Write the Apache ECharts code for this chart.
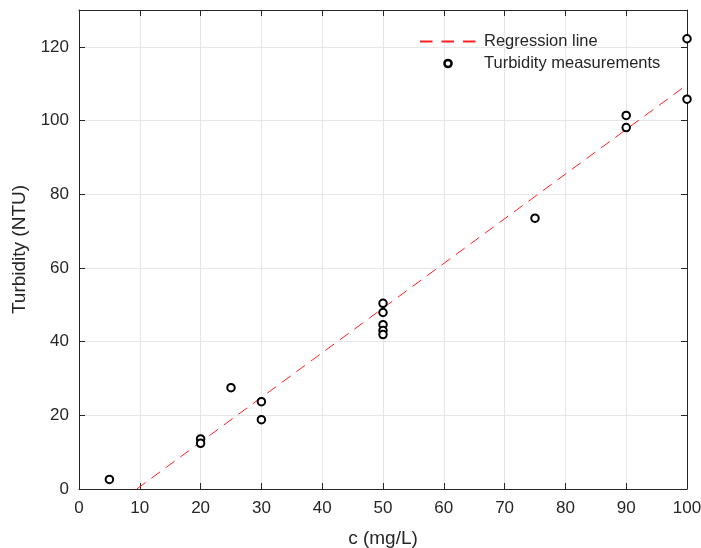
<!DOCTYPE html>
<html>
<head>
<meta charset="utf-8">
<script src="https://cdn.jsdelivr.net/npm/echarts@6/dist/echarts.min.js"></script>
<style>
html,body{margin:0;padding:0;background:#fff;overflow:hidden;}
#chart{width:701px;height:548px;}
</style>
</head>
<body>
<div id="chart"></div>
<script>
// Data
const concentrations = [5, 20, 20, 25, 30, 30, 50, 50, 50, 50, 50, 75, 90, 90, 100, 100];
const turbidity      = [2.6, 13.6, 12.4, 27.5, 23.7, 18.8, 50.4, 47.9, 44.6, 43.0, 41.9, 73.5, 101.4, 98.1, 122.2, 105.8];
const regressionX = [9.5, 100];
const regressionY = [0, 109.7];
const xTicks = [0, 10, 20, 30, 40, 50, 60, 70, 80, 90, 100];
const yTicks = [0, 20, 40, 60, 80, 100, 120];
const seriesNames = ['Regression line', 'Turbidity measurements'];

const font = 'Liberation Sans, Arial, Helvetica, sans-serif';
const axisColor = '#262626';
const gridColor = '#e6e6e6';

const scatterData = concentrations.map((c, i) => [c, turbidity[i]]);
const lineData = regressionX.map((x, i) => [x, regressionY[i]]);

// small ring legend icon inside a 56 x 14 box
const ringIcon = 'path://M0,0h0.01v0.01h-0.01z M56,14h-0.01v-0.01h0.01z ' +
  'M23.2,7 A4.8,4.8 0 1,0 32.8,7 A4.8,4.8 0 1,0 23.2,7 Z ' +
  'M25.7,7 A2.3,2.3 0 1,1 30.3,7 A2.3,2.3 0 1,1 25.7,7 Z';

const baseX = {
  type: 'value', min: xTicks[0], max: xTicks[xTicks.length - 1], interval: 10,
  axisLine: { show: true, onZero: false, lineStyle: { color: axisColor, width: 1 } },
  axisTick: { show: true, inside: true, length: 6, lineStyle: { color: axisColor } },
};
const baseY = {
  type: 'value', min: 0, max: 130, interval: 20,
  axisLine: { show: true, onZero: false, lineStyle: { color: axisColor, width: 1 } },
  axisTick: { show: true, inside: true, length: 6, lineStyle: { color: axisColor } },
};

const chart = echarts.init(document.getElementById('chart'), null, { renderer: 'canvas' });
chart.setOption({
  animation: false,
  backgroundColor: '#ffffff',
  grid: { left: 79, right: 14, top: 10, bottom: 59, containLabel: false, outerBoundsMode: 'none' },
  legend: {
    orient: 'vertical', left: 414, top: 28,
    itemWidth: 56, itemHeight: 14, itemGap: 5,
    textStyle: { fontFamily: font, fontSize: 16.5, color: '#262626', padding: [0, 0, 0, 3] },
    data: [
      { name: seriesNames[0], itemStyle: { opacity: 0 }, lineStyle: { type: [12.5, 9] } },
      { name: seriesNames[1], icon: ringIcon, itemStyle: { color: '#000', borderWidth: 0 } }
    ]
  },
  xAxis: [
    Object.assign({}, baseX, {
      position: 'bottom',
      name: 'c (mg/L)', nameLocation: 'middle', nameGap: 40,
      nameTextStyle: { fontFamily: font, fontSize: 19, color: '#262626' },
      axisLabel: { show: true, fontFamily: font, fontSize: 17, color: '#262626', margin: 11,
        formatter: v => xTicks.includes(v) ? String(v) : '' },
      splitLine: { show: true, lineStyle: { color: gridColor, width: 1 } }
    }),
    Object.assign({}, baseX, {
      position: 'top', axisLabel: { show: false }, splitLine: { show: false }
    })
  ],
  yAxis: [
    Object.assign({}, baseY, {
      position: 'left',
      name: 'Turbidity (NTU)', nameLocation: 'middle', nameGap: 50, nameRotate: 90,
      nameTextStyle: { fontFamily: font, fontSize: 19, color: '#262626' },
      axisLabel: { show: true, fontFamily: font, fontSize: 17, color: '#262626', margin: 10,
        formatter: v => yTicks.includes(v) ? String(v) : '' },
      splitLine: { show: true, lineStyle: { color: gridColor, width: 1 } }
    }),
    Object.assign({}, baseY, {
      position: 'right', axisLabel: { show: false }, splitLine: { show: false }
    })
  ],
  series: [
    {
      name: seriesNames[0], type: 'line', data: lineData,
      xAxisIndex: 0, yAxisIndex: 0,
      symbol: 'none', showSymbol: false,
      lineStyle: { color: '#ff2020', width: 1, type: [11, 7] },
      itemStyle: { color: '#ff2020' },
      z: 2
    },
    {
      name: seriesNames[1], type: 'scatter', data: scatterData,
      xAxisIndex: 0, yAxisIndex: 0,
      symbol: 'emptyCircle', symbolSize: 7.5,
      itemStyle: { color: '#000', borderColor: '#000', borderWidth: 2.7, opacity: 1 },
      z: 3
    }
  ]
});
</script>
</body>
</html>
